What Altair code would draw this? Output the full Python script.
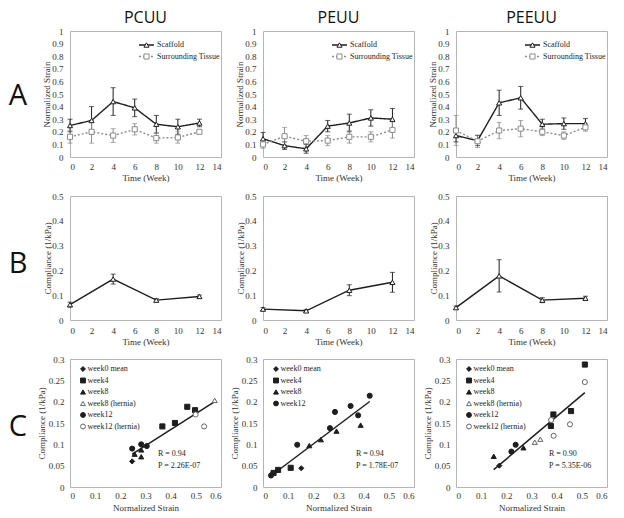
import altair as alt
import pandas as pd

# ---------------- Row A: normalized strain vs time ----------------
weeks_a = [0, 2, 4, 6, 8, 10, 12]
pcuu_scaffold = [0.25, 0.29, 0.44, 0.39, 0.26, 0.24, 0.27]
pcuu_scaffold_err = [0.05, 0.11, 0.11, 0.07, 0.07, 0.06, 0.03]
pcuu_tissue = [0.16, 0.20, 0.17, 0.22, 0.15, 0.155, 0.20]
pcuu_tissue_err = [0.05, 0.09, 0.055, 0.045, 0.04, 0.045, 0.015]
peuu_scaffold = [0.145, 0.09, 0.065, 0.245, 0.27, 0.31, 0.30]
peuu_scaffold_err = [0.05, 0.03, 0.035, 0.045, 0.07, 0.065, 0.085]
peuu_tissue = [0.10, 0.165, 0.125, 0.13, 0.16, 0.16, 0.215]
peuu_tissue_err = [0.03, 0.07, 0.045, 0.04, 0.05, 0.04, 0.065]
peeuu_scaffold = [0.17, 0.13, 0.43, 0.47, 0.26, 0.265, 0.265]
peeuu_scaffold_err = [0.05, 0.04, 0.10, 0.09, 0.04, 0.045, 0.04]
peeuu_tissue = [0.21, 0.125, 0.21, 0.225, 0.20, 0.17, 0.235]
peeuu_tissue_err = [0.12, 0.05, 0.065, 0.065, 0.03, 0.03, 0.03]

# ---------------- Row B: compliance vs time ----------------
weeks_b = [0, 4, 8, 12]
pcuu_compliance = [0.062, 0.165, 0.080, 0.095]
pcuu_compliance_err = [0.010, 0.020, 0.006, 0.006]
peuu_compliance = [0.044, 0.037, 0.120, 0.152]
peuu_compliance_err = [0.006, 0.005, 0.022, 0.040]
peeuu_compliance = [0.050, 0.178, 0.080, 0.088]
peeuu_compliance_err = [0.006, 0.065, 0.010, 0.008]

# ---------------- Row C: compliance vs normalized strain ----------------
pcuu_c_group = ["week0 mean", "week4", "week4", "week4", "week4",
                "week8", "week8", "week8", "week8 (hernia)",
                "week12", "week12", "week12", "week12 (hernia)", "week12 (hernia)"]
pcuu_c_strain = [0.247, 0.367, 0.417, 0.466, 0.497,
                 0.257, 0.283, 0.283, 0.575,
                 0.247, 0.283, 0.305, 0.499, 0.533]
pcuu_c_comp = [0.060, 0.142, 0.150, 0.188, 0.180,
               0.077, 0.087, 0.071, 0.203,
               0.090, 0.100, 0.096, 0.170, 0.142]

peuu_c_group = ["week0 mean", "week0 mean", "week4", "week4", "week4",
                "week8", "week8", "week8", "week8",
                "week12", "week12", "week12", "week12", "week12", "week12", "week12"]
peuu_c_strain = [0.035, 0.152, 0.042, 0.060, 0.110,
                 0.184, 0.230, 0.292, 0.388,
                 0.032, 0.136, 0.266, 0.286, 0.348, 0.378, 0.424]
peuu_c_comp = [0.030, 0.044, 0.033, 0.040, 0.045,
               0.097, 0.111, 0.131, 0.145,
               0.027, 0.099, 0.138, 0.176, 0.190, 0.168, 0.214]

peeuu_c_group = ["week0 mean", "week4", "week4", "week4", "week4",
                 "week8", "week8", "week8 (hernia)", "week8 (hernia)",
                 "week12", "week12",
                 "week12 (hernia)", "week12 (hernia)", "week12 (hernia)", "week12 (hernia)"]
peeuu_c_strain = [0.172, 0.377, 0.387, 0.457, 0.512,
                  0.150, 0.268, 0.313, 0.335,
                  0.220, 0.237,
                  0.378, 0.388, 0.453, 0.512]
peeuu_c_comp = [0.050, 0.143, 0.170, 0.178, 0.287,
                0.072, 0.092, 0.105, 0.112,
                0.083, 0.099,
                0.157, 0.120, 0.147, 0.246]

materials = ["PCUU", "PEUU", "PEEUU"]
row_letters = ["A", "B", "C"]
series_names = ["Scaffold", "Surrounding Tissue"]
c_groups_all = ["week0 mean", "week4", "week8", "week8 (hernia)", "week12", "week12 (hernia)"]
c_groups_peuu = ["week0 mean", "week4", "week8", "week12"]
stats_r = ["R = 0.94", "R = 0.94", "R = 0.90"]
stats_p = ["P = 2.26E-07", "P = 1.78E-07", "P = 5.35E-06"]

a_ticks_x = [0, 2, 4, 6, 8, 10, 12, 14]
a_ticks_y = [0, 0.1, 0.2, 0.3, 0.4, 0.5, 0.6, 0.7, 0.8, 0.9, 1]
b_ticks_y = [0, 0.1, 0.2, 0.3, 0.4, 0.5]
c_ticks_x = [0, 0.1, 0.2, 0.3, 0.4, 0.5, 0.6]
c_ticks_y = [0, 0.05, 0.1, 0.15, 0.2, 0.25, 0.3]

# ---------------- styling ----------------
SERIF = "Liberation Serif"
SANS = "Open Sans"
BLACK = "#1e1e1e"
GREY = "#8c8c8c"
W = 151
HA, HB, HC = 126, 124, 128

shape_of = {"week0 mean": "diamond", "week4": "square", "week8": "triangle-up",
            "week8 (hernia)": "triangle-up", "week12": "circle", "week12 (hernia)": "circle"}
fill_of = {"week0 mean": BLACK, "week4": BLACK, "week8": BLACK,
           "week8 (hernia)": "white", "week12": BLACK, "week12 (hernia)": "white"}
stroke_of = {"week0 mean": BLACK, "week4": BLACK, "week8": BLACK,
             "week8 (hernia)": "#666666", "week12": BLACK, "week12 (hernia)": "#666666"}


def one():
    return pd.DataFrame({"k": [0]})


def x_axis(title, values, title_y, label_pad):
    return alt.Axis(title=title, values=values, format="~g", titleX=W / 2, titleY=title_y,
                    titleBaseline="middle", titleAlign="center", labelPadding=label_pad,
                    ticks=False, domain=False, grid=False)


def y_axis(title, values, h, title_x, label_pad=7):
    return alt.Axis(title=title, values=values, format="~g", titleX=title_x, titleY=h / 2,
                    titleAngle=270, titleBaseline="middle", titleAlign="center",
                    labelPadding=label_pad, ticks=False, domain=False, grid=False)


def text_at(txt, x, y, size=8, font=SERIF, align="left", baseline="middle", color=BLACK):
    return alt.Chart(one()).mark_text(text=txt, font=font, fontSize=size, align=align,
                                      baseline=baseline, color=color).encode(
        x=alt.value(x), y=alt.value(y))


def panel_a(i, scaf, scaf_err, tis, tis_err):
    df = pd.DataFrame({
        "week": weeks_a + weeks_a,
        "val": scaf + tis,
        "err": scaf_err + tis_err,
        "series": [series_names[0]] * len(weeks_a) + [series_names[1]] * len(weeks_a),
    })
    df["lo"] = df["val"] - df["err"]
    df["hi"] = df["val"] + df["err"]
    xs = alt.Scale(domain=[0, 14], nice=False, zero=False)
    ys = alt.Scale(domain=[0, 1], nice=False)
    xa = x_axis("Time (Week)", a_ticks_x, 20, 5)
    ya = y_axis("Normalized Strain", a_ticks_y, HA, -24)
    X = alt.X("week:Q", scale=xs, axis=xa)
    col = alt.Color("series:N", scale=alt.Scale(domain=series_names, range=[BLACK, GREY]), legend=None)
    base = alt.Chart(df)
    rules = base.mark_rule(strokeWidth=1).encode(
        x=X, y=alt.Y("lo:Q", scale=ys, axis=ya), y2="hi:Q", color=col)
    caps = base.transform_fold(["lo", "hi"], as_=["end", "yv"]).mark_tick(
        orient="horizontal", size=5, thickness=1).encode(
        x=X, y=alt.Y("yv:Q", scale=ys, axis=ya), color=col)
    lines = base.mark_line(strokeWidth=1.4).encode(
        x=X, y=alt.Y("val:Q", scale=ys, axis=ya), color=col,
        strokeDash=alt.StrokeDash("series:N", scale=alt.Scale(domain=series_names, range=[[1, 0], [2, 2]]), legend=None))
    pts = base.mark_point(size=26, strokeWidth=1, opacity=1, fill="white", filled=False).encode(
        x=X, y=alt.Y("val:Q", scale=ys, axis=ya), color=col,
        shape=alt.Shape("series:N", scale=alt.Scale(domain=series_names, range=["triangle-up", "square"]), legend=None))
    layers = [rules, caps, lines, pts]
    leg_y = [14, 25.5]
    for name, ly, c, dash, shp in zip(series_names, leg_y, [BLACK, GREY], [[1, 0], [2, 2]], ["triangle-up", "square"]):
        layers.append(alt.Chart(one()).mark_rule(color=c, strokeWidth=1.4, strokeDash=dash).encode(
            x=alt.value(69), x2=alt.value(84), y=alt.value(ly)))
        layers.append(alt.Chart(one()).mark_point(shape=shp, size=26, color=c, fill="white",
                                                  filled=False, opacity=1, strokeWidth=1).encode(
            x=alt.value(76.5), y=alt.value(ly)))
        layers.append(text_at(name, 87, ly))
    layers.append(text_at(materials[i], W / 2, -8, size=16, font=SANS, align="center",
                          baseline="alphabetic", color="#111"))
    if i == 0:
        layers.append(text_at(row_letters[0], -52, 65, size=29, font=SANS, align="center", color="#111"))
    return alt.layer(*layers).properties(width=W, height=HA)


def panel_b(i, comp, comp_err):
    df = pd.DataFrame({"week": weeks_b, "val": comp, "err": comp_err})
    df["lo"] = df["val"] - df["err"]
    df["hi"] = df["val"] + df["err"]
    xs = alt.Scale(domain=[0, 14], nice=False, zero=False)
    ys = alt.Scale(domain=[0, 0.5], nice=False)
    xa = x_axis("Time (Week)", a_ticks_x, 21, 6)
    ya = y_axis("Compliance (1/kPa)", b_ticks_y, HB, -23)
    X = alt.X("week:Q", scale=xs, axis=xa)
    base = alt.Chart(df)
    rules = base.mark_rule(strokeWidth=1, color=BLACK).encode(
        x=X, y=alt.Y("lo:Q", scale=ys, axis=ya), y2="hi:Q")
    caps = base.transform_fold(["lo", "hi"], as_=["end", "yv"]).mark_tick(
        orient="horizontal", size=5, thickness=1, color=BLACK).encode(
        x=X, y=alt.Y("yv:Q", scale=ys, axis=ya))
    lines = base.mark_line(strokeWidth=1.4, color=BLACK).encode(
        x=X, y=alt.Y("val:Q", scale=ys, axis=ya))
    pts = base.mark_point(size=26, strokeWidth=1, opacity=1, fill="white", color=BLACK,
                          shape="triangle-up", filled=False).encode(
        x=X, y=alt.Y("val:Q", scale=ys, axis=ya))
    layers = [rules, caps, lines, pts]
    if i == 0:
        layers.append(text_at(row_letters[1], -52, 68, size=29, font=SANS, align="center", color="#111"))
    return alt.layer(*layers).properties(width=W, height=HB)


def panel_c(i, groups, strain, comp, legend_groups, r_x):
    df = pd.DataFrame({"x": strain, "y": comp, "group": groups})
    df["shape"] = df["group"].map(shape_of)
    df["fillc"] = df["group"].map(fill_of)
    df["strokec"] = df["group"].map(stroke_of)
    xs = alt.Scale(domain=[0, 0.6], nice=False, zero=False)
    ys = alt.Scale(domain=[0, 0.3], nice=False)
    xa = x_axis("Normalized Strain", c_ticks_x, 20, 4)
    ya = y_axis("Compliance (1/kPa)", c_ticks_y, HC, -29, 6)
    X = alt.X("x:Q", scale=xs, axis=xa)
    Y = alt.Y("y:Q", scale=ys, axis=ya)
    base = alt.Chart(df)
    reg = base.transform_regression("x", "y").mark_line(color=BLACK, strokeWidth=1.5).encode(x=X, y=Y)
    pts = base.mark_point(size=26, strokeWidth=1, opacity=1, filled=False).encode(
        x=X, y=Y,
        shape=alt.Shape("shape:N", scale=None),
        fill=alt.Fill("fillc:N", scale=None),
        stroke=alt.Stroke("strokec:N", scale=None))
    layers = [reg, pts]
    for k, g in enumerate(legend_groups):
        ly = 10 + 11.5 * k
        layers.append(alt.Chart(one()).mark_point(shape=shape_of[g], size=24, fill=fill_of[g],
                                                  stroke=stroke_of[g], filled=False, opacity=1,
                                                  strokeWidth=1).encode(
            x=alt.value(13), y=alt.value(ly)))
        layers.append(text_at(g, 17.5, ly))
    layers.append(text_at(stats_r[i], r_x, 95))
    layers.append(text_at(stats_p[i], r_x, 106.5))
    if i == 0:
        layers.append(text_at(row_letters[2], -52, 68, size=29, font=SANS, align="center", color="#111"))
    return alt.layer(*layers).properties(width=W, height=HC)


panels = [
    panel_a(0, pcuu_scaffold, pcuu_scaffold_err, pcuu_tissue, pcuu_tissue_err),
    panel_a(1, peuu_scaffold, peuu_scaffold_err, peuu_tissue, peuu_tissue_err),
    panel_a(2, peeuu_scaffold, peeuu_scaffold_err, peeuu_tissue, peeuu_tissue_err),
    panel_b(0, pcuu_compliance, pcuu_compliance_err),
    panel_b(1, peuu_compliance, peuu_compliance_err),
    panel_b(2, peeuu_compliance, peeuu_compliance_err),
    panel_c(0, pcuu_c_group, pcuu_c_strain, pcuu_c_comp, c_groups_all, 88),
    panel_c(1, peuu_c_group, peuu_c_strain, peuu_c_comp, c_groups_peuu, 93),
    panel_c(2, peeuu_c_group, peeuu_c_strain, peeuu_c_comp, c_groups_all, 93),
]

chart = alt.concat(*panels, columns=3, spacing={"row": 39, "column": 42}, bounds="flush").properties(
    padding={"top": 1, "left": 0, "right": 0, "bottom": 0}, background="white"
).configure_view(
    stroke="#b5b5b5", strokeWidth=1
).configure_axis(
    labelFont=SERIF, labelFontSize=9, labelColor="#333333",
    titleFont=SERIF, titleFontSize=9, titleFontWeight="normal", titleColor="#333333"
)

chart.save("out.html", embed_options={"renderer": "svg", "actions": False})
